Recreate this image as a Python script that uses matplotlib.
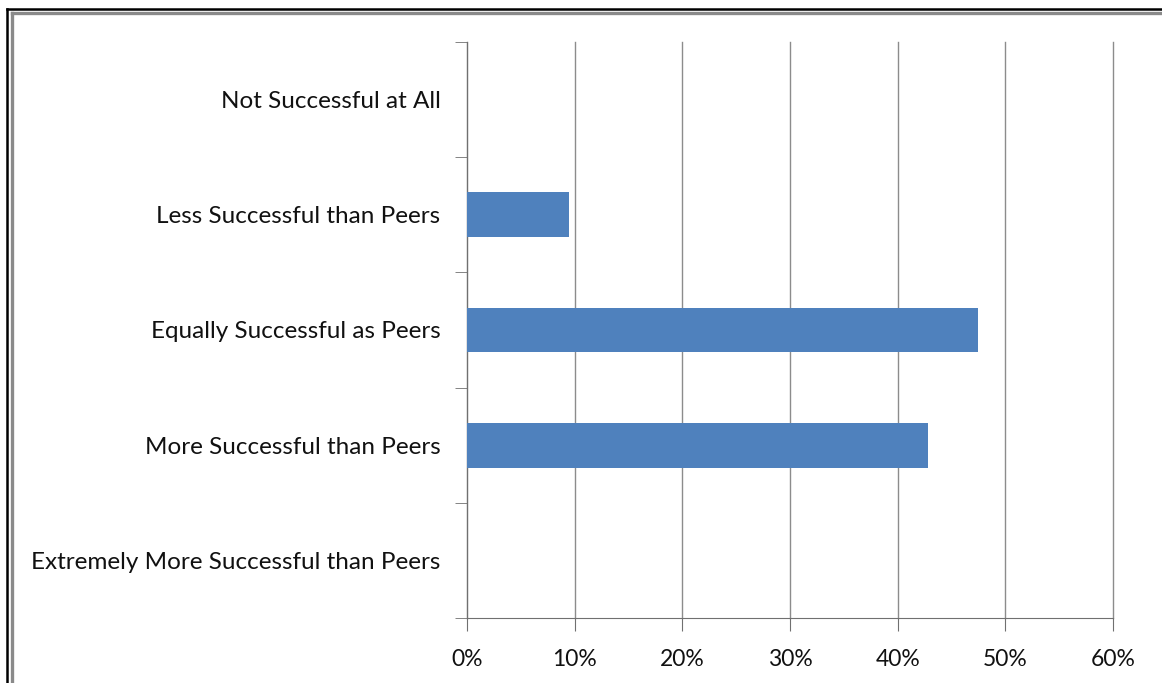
import matplotlib.pyplot as plt
import numpy as np
from matplotlib.lines import Line2D

categories = ["Not Successful at All",
              "Less Successful than Peers",
              "Equally Successful as Peers",
              "More Successful than Peers",
              "Extremely More Successful than Peers"]
percent = [0.0, 9.5, 47.5, 42.8, 0.0]
xticks = [0, 10, 20, 30, 40, 50, 60]

plt.rcParams['font.family'] = ['Lato', 'DejaVu Sans']

W, H = 1162, 683
fig = plt.figure(figsize=(W / 100, H / 100), dpi=100)
ax = fig.add_axes([467 / W, 1 - 618 / H, (1113 - 467) / W, (618 - 42) / H])

# frame only along the left and top edges (cut off right / bottom)
def px_line(xs, ys, color, lw):
    fig.lines.append(Line2D([x / W for x in xs], [1 - y / H for y in ys],
                            transform=fig.transFigure, color=color, linewidth=lw))

px_line([6.5, 6.5], [9, H], 'black', 1.8)
px_line([6.5, W], [9, 9], 'black', 1.8)
px_line([12, 12], [13, H], '#8a8a8a', 2.4)
px_line([12, W], [13, 13], '#8a8a8a', 2.4)

y = np.arange(len(categories))
ax.barh(y, percent, height=0.39, color='#4F81BD', zorder=3)

ax.set_xlim(0, 60)
ax.set_ylim(len(categories) - 0.5, -0.5)
ax.set_xticks(xticks)
ax.set_xticklabels(["{}%".format(t) for t in xticks])
ax.set_yticks(y)
ax.set_yticklabels(categories)
ax.set_yticks(np.arange(len(categories) + 1) - 0.5, minor=True)

ax.grid(axis='x', color='#8c8c8c', linewidth=1.0, zorder=0)
for g in ax.xaxis.get_gridlines():
    g.set_clip_on(False)
for s in ['top', 'right']:
    ax.spines[s].set_visible(False)
ax.spines['left'].set_color('#707070')
ax.spines['bottom'].set_color('#707070')

ax.tick_params(axis='y', which='major', length=0, pad=19, labelsize=17.5, colors='#111111')
ax.tick_params(axis='y', which='minor', length=9, color='#707070')
ax.tick_params(axis='x', length=9, color='#707070', pad=13, labelsize=16.5, labelcolor='#111111')

plt.savefig('out.png', dpi=100)
